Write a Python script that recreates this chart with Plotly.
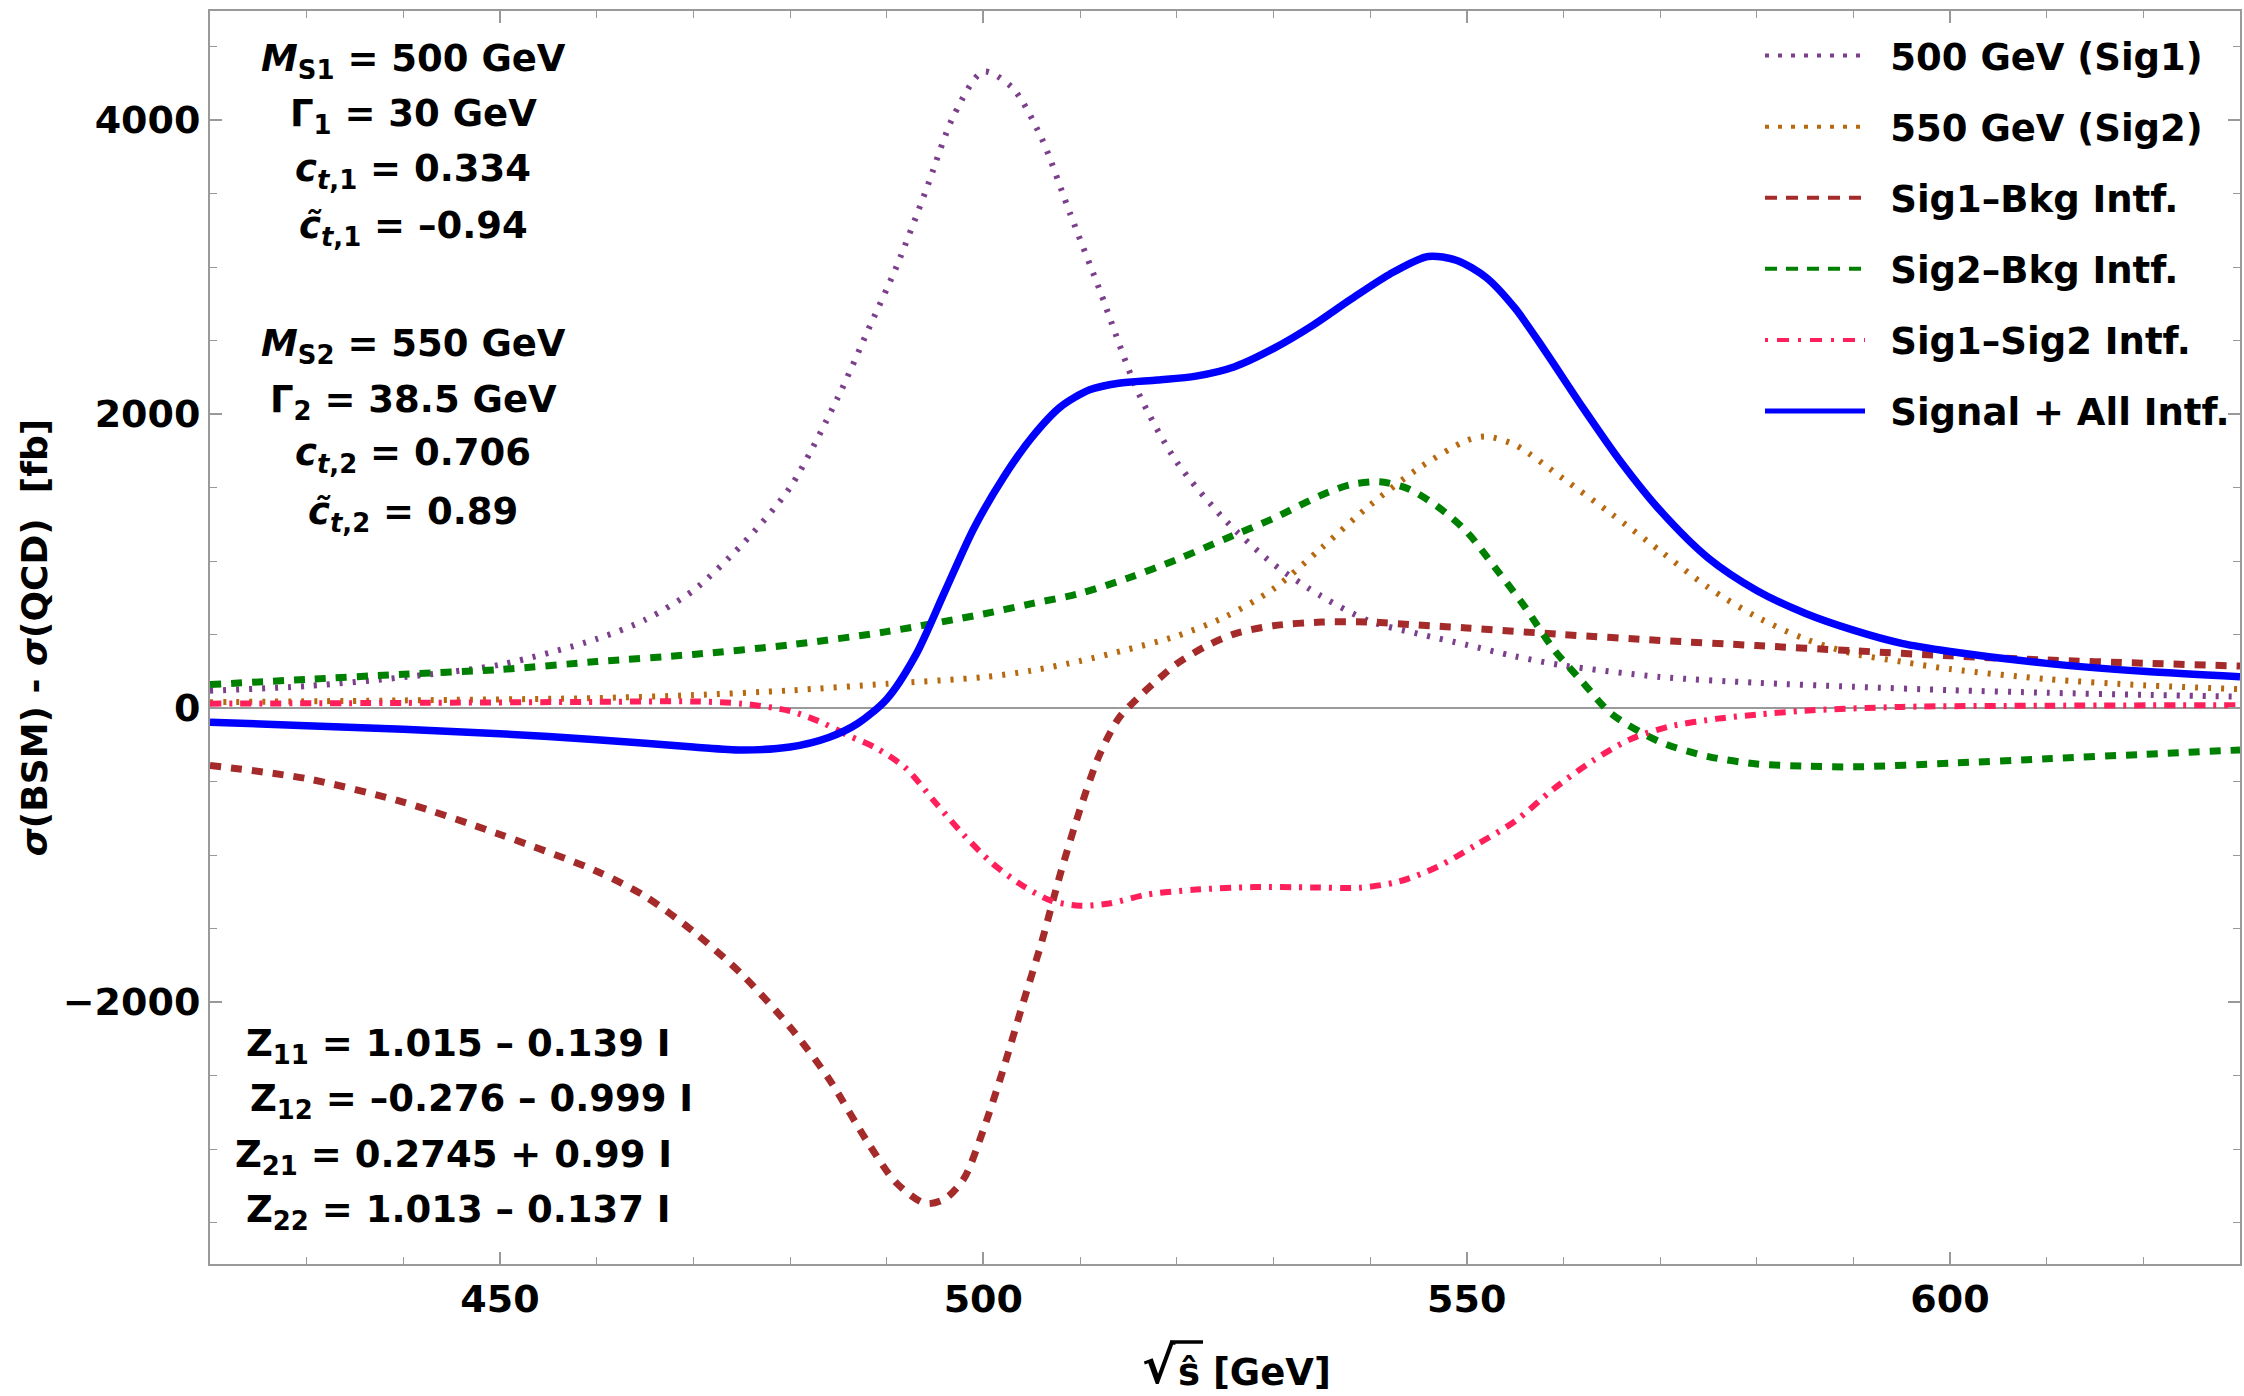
import plotly.graph_objects as go

# ---------------- data ----------------
sig1_x = [420, 430, 440, 450, 460, 465, 470, 475, 480, 485, 488, 491, 494, 497, 500, 503, 506, 509, 512, 516,
          520, 525, 530, 535, 540, 545, 550, 555, 560, 570, 580, 590, 600, 610, 620, 630]
sig1_y = [118, 150, 210, 295, 470, 600, 800, 1110, 1500, 2120, 2560, 3000, 3510, 4040, 4330, 4220, 3880, 3360,
          2850, 2150, 1675, 1280, 980, 760, 590, 505, 430, 352, 290, 212, 172, 145, 122, 104, 90, 77]

sig2_x = [420, 440, 460, 470, 480, 490, 500, 505, 510, 515, 520, 525, 530, 535, 540, 545, 550, 552, 555, 560,
          565, 570, 575, 580, 585, 590, 595, 600, 610, 620, 630]
sig2_y = [40, 52, 68, 88, 120, 165, 210, 255, 320, 400, 490, 620, 810, 1090, 1380, 1630, 1820, 1848, 1790, 1560,
          1320, 1070, 820, 620, 470, 370, 315, 265, 197, 155, 129]

s1b_x = [420, 430, 440, 450, 460, 465, 470, 475, 480, 484, 488, 491, 494, 496, 498, 500, 502, 504, 506, 508,
         510, 512, 514, 516, 518, 520, 523, 526, 530, 535, 540, 545, 550, 560, 570, 580, 590, 600, 610, 620, 630]
s1b_y = [-390, -480, -640, -860, -1110, -1280, -1520, -1810, -2170, -2520, -2950, -3230, -3370, -3340, -3200,
         -2870, -2470, -2030, -1600, -1120, -690, -320, -70, 70, 190, 300, 420, 505, 560, 585, 585, 565, 545,
         500, 460, 425, 390, 355, 327, 305, 286]

s2b_x = [420, 430, 440, 450, 460, 470, 480, 490, 500, 505, 510, 515, 520, 525, 530, 535, 538, 541, 544, 547,
         550, 553, 556, 559, 562, 565, 570, 575, 580, 585, 590, 600, 610, 620, 630]
s2b_y = [160, 195, 230, 262, 316, 365, 430, 520, 640, 710, 780, 885, 1010, 1150, 1290, 1450, 1520, 1540, 1490,
         1370, 1200, 950, 690, 400, 176, -40, -230, -330, -380, -395, -400, -375, -345, -315, -285]

s12_x = [420, 440, 460, 470, 475, 480, 483, 486, 489, 492, 495, 498, 501, 504, 507, 510, 513, 517, 522, 528,
         534, 539, 543, 547, 551, 555, 559, 563, 567, 571, 576, 580, 585, 595, 610, 630]
s12_y = [30, 35, 42, 45, 30, -20, -90, -185, -275, -410, -640, -865, -1060, -1205, -1310, -1345, -1330, -1268,
         -1235, -1218, -1220, -1222, -1180, -1080, -930, -770, -550, -360, -210, -125, -72, -45, -18, 8, 16, 20]

tot_x = [420, 430, 440, 450, 460, 470, 475, 480, 484, 487, 490, 493, 496, 499, 502, 505, 508, 511, 514, 518,
         522, 526, 530, 534, 538, 542, 546, 549, 552, 555, 558, 562, 566, 570, 575, 580, 585, 590, 595, 600,
         610, 620, 630]
tot_y = [-96, -120, -145, -175, -215, -265, -285, -265, -200, -105, 60, 360, 790, 1220, 1560, 1840, 2050, 2165,
         2210, 2232, 2258, 2322, 2445, 2600, 2780, 2950, 3072, 3045, 2930, 2720, 2440, 2045, 1670, 1345, 1020,
         800, 645, 530, 440, 385, 304, 250, 213]

names = ["500 GeV (Sig1)", "550 GeV (Sig2)", "Sig1\u2013Bkg Intf.", "Sig2\u2013Bkg Intf.",
         "Sig1\u2013Sig2 Intf.", "Signal + All Intf."]

x_ticks = [450, 500, 550, 600]
y_ticks = [-2000, 0, 2000, 4000]

params_top = ["<i>M</i><sub>S1</sub> = 500 GeV", "\u0393<sub>1</sub> = 30 GeV",
              "<i>c</i><sub><i>t</i>,1</sub> = 0.334", "<i>c\u0303</i><sub><i>t</i>,1</sub> = \u20130.94",
              "<i>M</i><sub>S2</sub> = 550 GeV", "\u0393<sub>2</sub> = 38.5 GeV",
              "<i>c</i><sub><i>t</i>,2</sub> = 0.706", "<i>c\u0303</i><sub><i>t</i>,2</sub> = 0.89"]
params_z = ["Z<sub>11</sub> = 1.015 \u2013 0.139 I", "Z<sub>12</sub> = \u20130.276 \u2013 0.999 I",
            "Z<sub>21</sub> = 0.2745 + 0.99 I", "Z<sub>22</sub> = 1.013 \u2013 0.137 I"]

# ---------------- styling ----------------
FONT = "DejaVu Sans"
colors = ["#7b3f8c", "#b8680f", "#a52a2a", "#008000", "#ff1f5a", "#0000ff"]
dashes = ["3px,10px", "3px,10px", "11px,10px", "11px,10px", "11px,8px,3px,8px", "solid"]
widths = [6, 6, 7, 7, 6, 7.5]
leg_dashes = ["4px,9px", "4px,9px", "12px,9px", "12px,9px", "3px,9px,12px,9px", "solid"]
leg_widths = [4, 4, 4, 4, 4, 5]

series = [(sig1_x, sig1_y), (sig2_x, sig2_y), (s1b_x, s1b_y), (s2b_x, s2b_y), (s12_x, s12_y), (tot_x, tot_y)]

fig = go.Figure()
for i, (xs, ys) in enumerate(series):
    fig.add_trace(go.Scatter(x=xs, y=ys, mode="lines", showlegend=False,
                             line=dict(color=colors[i], width=widths[i], dash=dashes[i],
                                       shape="spline", smoothing=0.8)))
for i, nm in enumerate(names):
    fig.add_trace(go.Scatter(x=[None], y=[None], mode="lines", name="\u00a0\u2009" + nm, legendgroup=f"g{i}",
                             line=dict(color=colors[i], width=leg_widths[i], dash=leg_dashes[i])))

L, R, T, B = 210, 4, 11, 132
W, H = 2244, 1396
pw, ph = W - L - R, H - T - B

def px(xf):
    return (xf - L) / pw

def py(yf):
    return (H - B - yf) / ph

txt_font = dict(family=FONT, size=37, color="black", weight="bold")
top_pos = [56.5, 112.5, 167, 224, 342, 397.5, 451, 510]
for txt, yf in zip(params_top, top_pos):
    fig.add_annotation(text=txt, xref="paper", yref="paper", x=px(413), y=py(yf + 4),
                       xanchor="center", yanchor="middle", showarrow=False, font=txt_font)
z_pos = [(458.5, 1042), (471.5, 1097), (453, 1153), (458.5, 1208)]
for txt, (xf, yf) in zip(params_z, z_pos):
    fig.add_annotation(text=txt, xref="paper", yref="paper", x=px(xf), y=py(yf + 4),
                       xanchor="center", yanchor="middle", showarrow=False, font=txt_font)

# x-axis title: radical sign + s-hat with vinculum
fig.add_annotation(text="\u221a", xref="paper", yref="paper", x=px(1178), y=py(1366),
                   xanchor="right", yanchor="middle", showarrow=False,
                   font=dict(family=FONT, size=50, color="black", weight="bold"))
fig.add_annotation(text="\u015d [GeV]", xref="paper", yref="paper", x=px(1176), y=py(1373),
                   xanchor="left", yanchor="middle", showarrow=False,
                   font=dict(family=FONT, size=37, color="black", weight="bold"))
fig.add_shape(type="line", xref="paper", yref="paper", x0=px(1170), x1=px(1203), y0=py(1342), y1=py(1342),
              line=dict(color="black", width=3.5))

axcol = "#999999"
fig.update_xaxes(range=[420, 630], tickvals=x_ticks, ticks="inside", ticklen=12, tickwidth=1.5,
                 tickcolor=axcol, showline=True, linecolor=axcol, linewidth=2, mirror="ticks",
                 showgrid=False, zeroline=False, automargin=False,
                 minor=dict(dtick=10, ticks="inside", ticklen=7, tickwidth=1.2, tickcolor=axcol, showgrid=False),
                 tickfont=dict(family=FONT, size=38, color="black", weight="bold"))
fig.update_yaxes(range=[-3782, 4742], tickvals=y_ticks, ticks="inside", ticklen=12, tickwidth=1.5,
                 tickcolor=axcol, showline=True, linecolor=axcol, linewidth=2, mirror="ticks",
                 showgrid=False, zeroline=True, zerolinecolor="#9a9a9a", zerolinewidth=1.5,
                 automargin=False,
                 minor=dict(dtick=500, ticks="inside", ticklen=7, tickwidth=1.2, tickcolor=axcol, showgrid=False),
                 tickfont=dict(family=FONT, size=38, color="black", weight="bold"),
                 title=dict(text="<i>\u03c3</i>(BSM) - <i>\u03c3</i>(QCD)  [fb]",
                            font=dict(family=FONT, size=36, color="black", weight="bold"), standoff=4))

fig.update_layout(width=W, height=H, margin=dict(l=L, r=R, t=T, b=B, pad=0),
                  paper_bgcolor="white", plot_bgcolor="white",
                  legend=dict(x=px(1760), y=py(25), xanchor="left", yanchor="top",
                              bgcolor="rgba(0,0,0,0)", itemwidth=100, tracegroupgap=20,
                              font=dict(family=FONT, size=37, color="black", weight="bold")))

fig.write_html("out.html")
